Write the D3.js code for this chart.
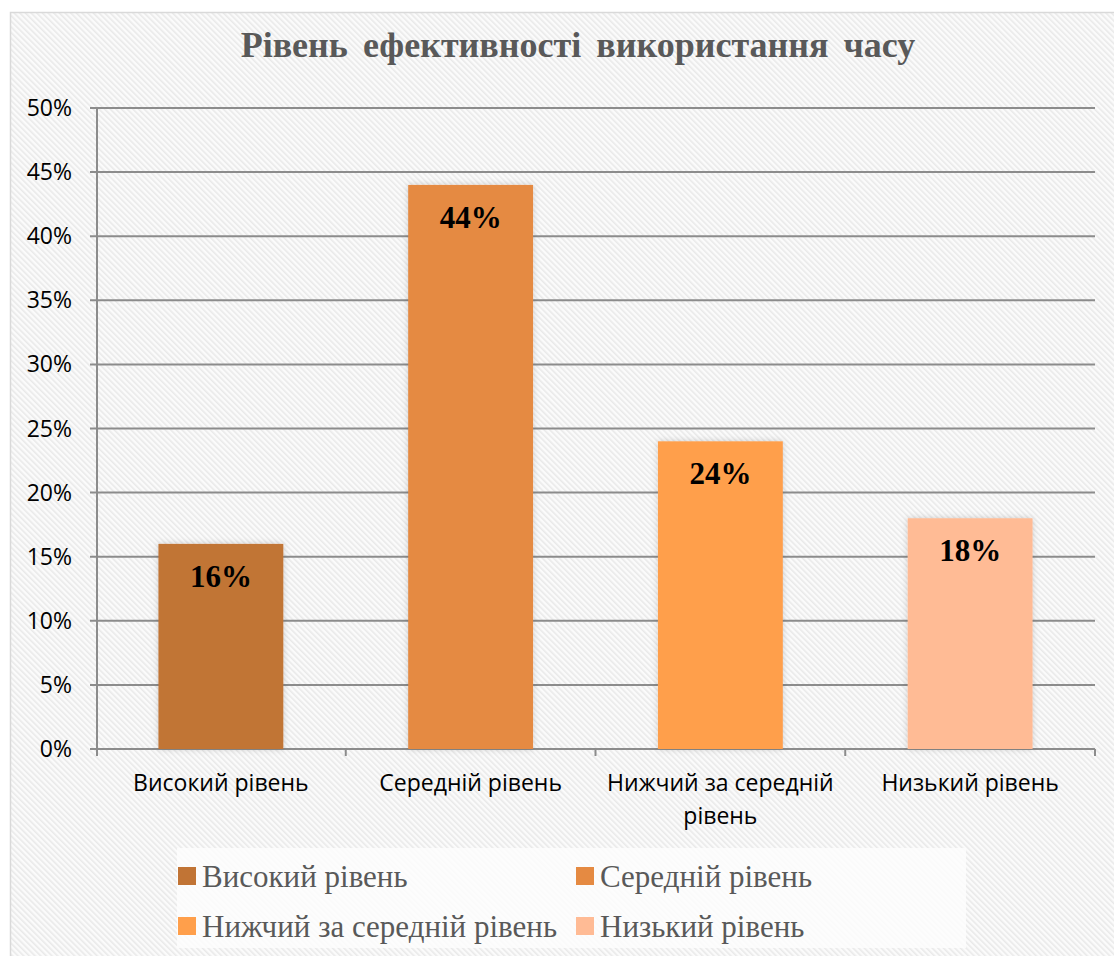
<!DOCTYPE html>
<html><head><meta charset="utf-8">
<script src="https://cdn.jsdelivr.net/npm/d3@7"></script>
<style>html,body{margin:0;padding:0;background:#fff;overflow:hidden}</style>
</head><body>
<svg id="chart" width="1114" height="956"></svg>
<script>
const categories = ["Високий рівень", "Середній рівень", "Нижчий за середній рівень", "Низький рівень"];
const values = [0.16, 0.44, 0.24, 0.18];
const colors = ["#C17435", "#E58A42", "#FF9F4B", "#FFBB95"];
const yTicks = [0, 0.05, 0.10, 0.15, 0.20, 0.25, 0.30, 0.35, 0.40, 0.45, 0.50];
const xLabelLines = [["Високий рівень"], ["Середній рівень"], ["Нижчий за середній", "рівень"], ["Низький рівень"]];
const title = "Рівень ефективності використання часу";

const svg = d3.select("#chart");
const defs = svg.append("defs");
const pat = defs.append("pattern").attr("id","hatch").attr("patternUnits","userSpaceOnUse")
  .attr("width",4).attr("height",4).attr("patternTransform","rotate(-45)");
pat.append("rect").attr("width",4).attr("height",4).attr("fill","#fbfbfb");
pat.append("rect").attr("width",1.6).attr("height",4).attr("fill","#e9e9e9");
const f = defs.append("filter").attr("id","sh").attr("x","-20%").attr("y","-20%").attr("width","140%").attr("height","140%");
f.append("feDropShadow").attr("dx",0).attr("dy",0).attr("stdDeviation",3).attr("flood-color","#000").attr("flood-opacity",0.18);

svg.append("rect").attr("x",10.5).attr("y",12.5).attr("width",1200).attr("height",1000)
  .attr("fill","url(#hatch)").attr("stroke","#d9d9d9").attr("stroke-width",1.5);

const x = d3.scaleBand().domain(categories).range([96, 1095]).paddingInner(0.5).paddingOuter(0.25);
const xb = d3.scaleBand().domain(categories).range([96, 1095]);
const y = d3.scaleLinear().domain([0, 0.5]).range([749, 108]);

// gridlines
svg.append("g").selectAll("line").data(yTicks).join("line")
  .attr("x1",90).attr("x2",1095).attr("y1",d=>y(d)).attr("y2",d=>y(d))
  .attr("stroke","#8c8c8c").attr("stroke-width",2);
// y axis line
svg.append("line").attr("x1",97).attr("x2",97).attr("y1",y(0.5)).attr("y2",y(0)+7)
  .attr("stroke","#8c8c8c").attr("stroke-width",2);
// x ticks at band boundaries
const bounds = categories.map(c=>xb(c)).concat([1095]);
svg.append("g").selectAll("line").data(bounds.slice(1)).join("line")
  .attr("x1",d=>d).attr("x2",d=>d).attr("y1",y(0)).attr("y2",y(0)+7)
  .attr("stroke","#8c8c8c").attr("stroke-width",2);

// y labels
svg.append("g").selectAll("text").data(yTicks).join("text")
  .attr("x",72).attr("y",d=>y(d)).attr("dy","0.35em").attr("text-anchor","end")
  .attr("font-family","Open Sans, sans-serif").attr("font-size",23).attr("fill","#000")
  .text(d=>d3.format(".0%")(d));

// bars
svg.append("g").selectAll("rect").data(values).join("rect")
  .attr("x",(d,i)=>x(categories[i])).attr("width",x.bandwidth())
  .attr("y",d=>y(d)).attr("height",d=>y(0)-y(d))
  .attr("fill",(d,i)=>colors[i]).attr("filter","url(#sh)");

// data labels
svg.append("g").selectAll("text").data(values).join("text")
  .attr("x",(d,i)=>x(categories[i])+x.bandwidth()/2).attr("y",d=>y(d)+43)
  .attr("text-anchor","middle").attr("font-family","Liberation Serif, Times New Roman, serif")
  .attr("font-weight","bold").attr("font-size",31).attr("fill","#000")
  .text(d=>d3.format(".0%")(d));

// x labels
const xl = svg.append("g").selectAll("text").data(categories).join("text")
  .attr("x",d=>xb(d)+xb.bandwidth()/2).attr("y",791).attr("text-anchor","middle")
  .attr("font-family","Open Sans, sans-serif").attr("font-size",23).attr("fill","#000");
xl.each(function(d,i){
  d3.select(this).selectAll("tspan").data(xLabelLines[i]).join("tspan")
    .attr("x",xb(d)+xb.bandwidth()/2).attr("dy",(t,j)=>j===0?0:33).text(t=>t);
});

// title
svg.append("text").attr("x",578).attr("y",57).attr("text-anchor","middle")
  .attr("font-family","Liberation Serif, Times New Roman, serif").attr("font-weight","bold")
  .attr("font-size",36).attr("fill","#595959").attr("word-spacing",6).text(title);

// legend
svg.append("rect").attr("x",177).attr("y",848).attr("width",789).attr("height",100).attr("fill","#fdfdfd").attr("opacity",0.85);
const legPos = [[178,876],[576,876],[178,926],[576,926]];
const lg = svg.append("g").selectAll("g").data(categories).join("g")
  .attr("transform",(d,i)=>`translate(${legPos[i][0]},${legPos[i][1]})`);
lg.append("rect").attr("x",0).attr("y",-9).attr("width",18).attr("height",18).attr("fill",(d,i)=>colors[i]);
lg.append("text").attr("x",24).attr("y",0).attr("dy","0.35em")
  .attr("font-family","Liberation Serif, Times New Roman, serif").attr("font-size",31).attr("fill","#595959")
  .text(d=>d);
</script>
</body></html>
